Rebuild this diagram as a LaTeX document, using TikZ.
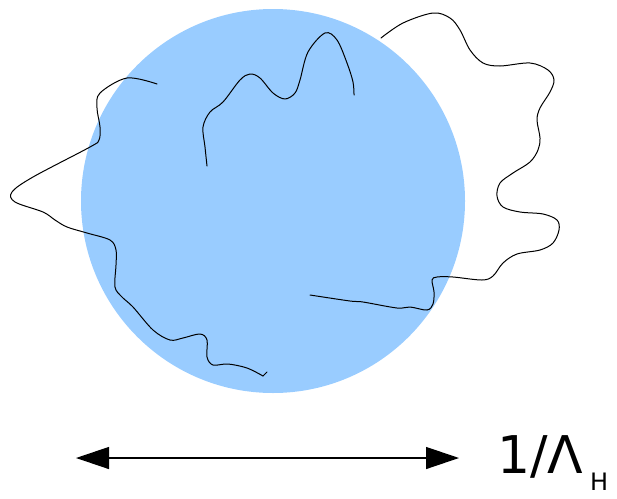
\documentclass[tikz,border=0pt]{standalone}
\usepackage{fontspec}
\setmainfont{DejaVu Sans}
\usetikzlibrary{arrows.meta}
\definecolor{ballblue}{HTML}{99CCFF}
\tikzset{
  chain/.style={draw=black, line width=1.0pt, line cap=round, line join=round},
  ball/.style={fill=ballblue, draw=none},
  sizearrow/.style={line width=1.3pt, {Triangle[length=33pt,width=22pt]}-{Triangle[length=33pt,width=22pt]}},
}
\begin{document}
\begin{tikzpicture}[x=1pt,y=-1pt]
\useasboundingbox (0,0) rectangle (617,498);
\fill[ball] (273,201) circle[radius=192];
% left chain
\draw[chain] plot[smooth, tension=0.55] coordinates {
 (157,84) (127,78) (100,93) (97,108) (100,127) (99,140) (90,147)
 (33,177) (12,192) (15,202) (43,212) (55,220) (67,227) (87,233) (110,240)
 (116,250) (116,265) (115,287) (122,297) (133,307) (153,330) (170,340)
 (183,338) (200,334) (207,340) (207,357) (213,365) (228,364) (247,368) (263,376)};
\draw[chain] (263,376) -- (267,372);
% middle chain
\draw[chain] plot[smooth, tension=0.55] coordinates {
 (207,166) (205,147) (203,127) (210,112) (223,102) (240,80) (250,74)
 (260,78) (273,93) (285,99) (295,93) (300,80) (308,52) (325,33)
 (337,40) (347,63) (353,82) (354,95)};
% right chain
\draw[chain] plot[smooth, tension=0.55] coordinates {
 (310,295) (350,301) (363,302) (397,308) (410,307) (427,310) (433,304)
 (434,292) (432,280) (437,277) (453,277) (482,280) (493,276) (503,263)
 (517,254) (540,250) (553,243) (559,230) (557,220) (543,214) (520,212)
 (503,207) (497,196) (500,183) (513,173) (530,162) (538,150) (540,138)
 (537,120) (540,108) (550,92) (554,80) (548,70) (530,63) (500,66)
 (483,63) (470,50) (460,30) (450,18) (433,13) (403,23) (381,38)};
% size arrow
\coordinate (aL) at (76,458);
\coordinate (aR) at (459,458);
\draw[sizearrow] (aL) -- (aR);
\node[anchor=base west, inner sep=0, font=\fontsize{52}{52}\selectfont] (lab) at (497,473) {1/Λ};
\node[anchor=base west, inner sep=0, font=\fontsize{24}{24}\selectfont] (sub) at (590,490) {H};
\end{tikzpicture}
\end{document}
